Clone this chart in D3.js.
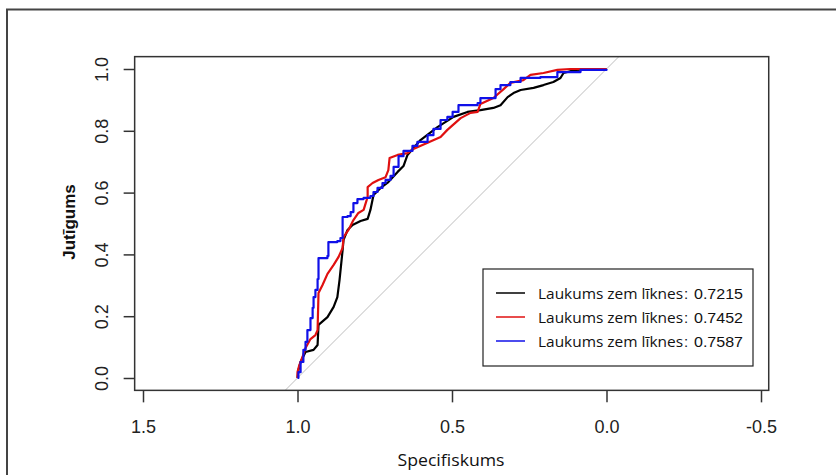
<!DOCTYPE html>
<html>
<head>
<meta charset="utf-8">
<script src="https://cdn.jsdelivr.net/npm/d3@7/dist/d3.min.js"></script>
<style>
  html, body { margin: 0; padding: 0; background: #fff; }
  svg { display: block; }
</style>
</head>
<body>
<svg id="chart" width="836" height="475"></svg>
<script>
// ---- data ----
const xTicks = [1.5, 1.0, 0.5, 0.0, -0.5];
const xTickLabels = ["1.5", "1.0", "0.5", "0.0", "-0.5"];
const yTicks = [0.0, 0.2, 0.4, 0.6, 0.8, 1.0];
const yTickLabels = ["0.0", "0.2", "0.4", "0.6", "0.8", "1.0"];

const seriesNames = ["Laukums zem līknes", "Laukums zem līknes", "Laukums zem līknes"];
const seriesAUC = ["0.7215", "0.7452", "0.7587"];
const seriesColors = ["#000000", "#e01010", "#1010e8"];

const blackSpec = [1.000,0.997,0.990,0.974,0.948,0.935,0.932,0.903,0.883,0.871,0.864,0.854,0.851,0.838,0.822,0.796,0.773,0.764,0.754,0.731,0.706,0.676,0.657,0.644,0.602,0.547,0.495,0.450,0.408,0.366,0.343,0.320,0.301,0.278,0.236,0.204,0.172,0.149,0.139,0.100,0.000];
const blackSens = [0.000,0.026,0.052,0.084,0.091,0.107,0.172,0.197,0.230,0.262,0.317,0.414,0.447,0.479,0.495,0.508,0.515,0.544,0.592,0.615,0.634,0.667,0.686,0.722,0.770,0.812,0.845,0.861,0.867,0.874,0.883,0.909,0.922,0.932,0.939,0.948,0.958,0.971,0.987,0.997,1.000];

const redSpec = [1.000,1.000,0.994,0.984,0.974,0.958,0.942,0.935,0.932,0.919,0.903,0.883,0.867,0.854,0.851,0.835,0.819,0.803,0.786,0.773,0.773,0.757,0.738,0.715,0.706,0.702,0.676,0.644,0.625,0.579,0.537,0.515,0.472,0.440,0.417,0.408,0.366,0.333,0.311,0.269,0.246,0.204,0.159,0.117,0.052,0.000];
const redSens = [0.000,0.019,0.042,0.068,0.097,0.126,0.139,0.155,0.275,0.301,0.337,0.366,0.392,0.421,0.456,0.479,0.511,0.534,0.544,0.586,0.618,0.631,0.641,0.650,0.673,0.712,0.722,0.728,0.741,0.761,0.780,0.803,0.841,0.858,0.861,0.887,0.906,0.935,0.955,0.964,0.981,0.987,0.997,1.000,1.000,1.000];

const blueSpec = [1.000,0.997,0.990,0.981,0.974,0.968,0.958,0.951,0.948,0.942,0.935,0.932,0.903,0.900,0.871,0.861,0.854,0.854,0.838,0.828,0.819,0.806,0.786,0.764,0.754,0.741,0.725,0.715,0.699,0.689,0.673,0.657,0.628,0.612,0.579,0.560,0.537,0.515,0.498,0.479,0.417,0.408,0.375,0.359,0.343,0.311,0.278,0.214,0.159,0.084,0.000];
const blueSens = [0.000,0.019,0.052,0.091,0.117,0.155,0.194,0.227,0.262,0.285,0.320,0.388,0.395,0.440,0.443,0.453,0.489,0.521,0.524,0.537,0.566,0.579,0.583,0.589,0.602,0.615,0.631,0.641,0.654,0.683,0.718,0.735,0.751,0.764,0.786,0.806,0.835,0.845,0.861,0.883,0.890,0.906,0.906,0.935,0.948,0.958,0.971,0.974,0.990,0.997,1.000];

// ---- layout ----
const svg = d3.select("#chart");
const x = d3.scaleLinear().domain([1.5, -0.5]).range([143, 761]);
const y = d3.scaleLinear().domain([0, 1]).range([378, 69]);
const boxX = [1.527, -0.525];
const boxY = [-0.04, 1.04];

// outer frame
svg.append("rect").attr("x", 7).attr("y", 9.5).attr("width", 900).attr("height", 600)
  .attr("fill", "none").attr("stroke", "#444").attr("stroke-width", 2);

// clip
svg.append("clipPath").attr("id", "plotclip").append("rect")
  .attr("x", x(boxX[0])).attr("y", y(boxY[1]))
  .attr("width", x(boxX[1]) - x(boxX[0])).attr("height", y(boxY[0]) - y(boxY[1]));

const plot = svg.append("g").attr("clip-path", "url(#plotclip)");

// diagonal
plot.append("line")
  .attr("x1", x(1.04)).attr("y1", y(-0.04))
  .attr("x2", x(-0.04)).attr("y2", y(1.04))
  .attr("stroke", "#bdbdbd").attr("stroke-width", 1);

const curves = [
  {spec: blackSpec, sens: blackSens, color: seriesColors[0], curve: d3.curveLinear},
  {spec: redSpec, sens: redSens, color: seriesColors[1], curve: d3.curveLinear},
  {spec: blueSpec, sens: blueSens, color: seriesColors[2], curve: d3.curveStepAfter}
];
curves.forEach(c => {
  const pts = c.spec.map((s, i) => [s, c.sens[i]]);
  plot.append("path").datum(pts)
    .attr("fill", "none").attr("stroke", c.color).attr("stroke-width", 2.2)
    .attr("stroke-linejoin", "round")
    .attr("d", d3.line().x(d => x(d[0])).y(d => y(d[1])).curve(c.curve));
});

// box
svg.append("rect")
  .attr("x", x(boxX[0])).attr("y", y(boxY[1]))
  .attr("width", x(boxX[1]) - x(boxX[0])).attr("height", y(boxY[0]) - y(boxY[1]))
  .attr("fill", "none").attr("stroke", "#333").attr("stroke-width", 1.5);

// x axis
const gx = svg.append("g").attr("transform", `translate(0,${y(boxY[0])})`)
  .call(d3.axisBottom(x).tickValues(xTicks).tickFormat((d, i) => xTickLabels[i]).tickSize(12).tickPadding(0));
gx.select(".domain").remove();
gx.selectAll(".tick line").attr("stroke", "#333").attr("stroke-width", 1.5);
gx.selectAll(".tick text").attr("y", 43).attr("dy", 0)
  .attr("font-family", "Liberation Sans, Arial, sans-serif").attr("font-size", 18).attr("fill", "#222");

// y axis
const gy = svg.append("g").attr("transform", `translate(${x(boxX[0])},0)`)
  .call(d3.axisLeft(y).tickValues(yTicks).tickFormat((d, i) => yTickLabels[i]).tickSize(11).tickPadding(0));
gy.select(".domain").remove();
gy.selectAll(".tick line").attr("stroke", "#333").attr("stroke-width", 1.5);
gy.selectAll(".tick text")
  .attr("transform", "rotate(-90)")
  .attr("x", 0).attr("y", -27).attr("dy", 0)
  .attr("text-anchor", "middle")
  .attr("font-family", "Liberation Sans, Arial, sans-serif").attr("font-size", 18).attr("fill", "#222");

// axis titles
svg.append("text").attr("x", 451).attr("y", 466)
  .attr("text-anchor", "middle")
  .attr("font-family", "Open Sans, sans-serif").attr("font-size", 16).attr("fill", "#111")
  .attr("textLength", 107).attr("lengthAdjust", "spacingAndGlyphs")
  .text("Specifiskums");

svg.append("text").attr("transform", "translate(75,222) rotate(-90)")
  .attr("text-anchor", "middle")
  .attr("font-family", "Liberation Sans, Arial, sans-serif").attr("font-weight", "bold")
  .attr("font-size", 17).attr("fill", "#111")
  .text("Jutīgums");

// legend
const lg = svg.append("g");
lg.append("rect").attr("x", 483).attr("y", 269).attr("width", 270).attr("height", 97)
  .attr("fill", "#fff").attr("stroke", "#222").attr("stroke-width", 1.2);
const rowY = [293, 317, 341];
seriesNames.forEach((name, i) => {
  lg.append("line").attr("x1", 496).attr("x2", 525).attr("y1", rowY[i]).attr("y2", rowY[i])
    .attr("stroke", seriesColors[i]).attr("stroke-width", 1.5);
  lg.append("text").attr("x", 538).attr("y", rowY[i] + 6)
    .attr("font-family", "Open Sans, sans-serif").attr("font-size", 15).attr("fill", "#111")
    .attr("textLength", 145).attr("lengthAdjust", "spacingAndGlyphs")
    .text(name);
  lg.append("text").attr("x", 684).attr("y", rowY[i] + 6)
    .attr("font-family", "Liberation Sans, Arial, sans-serif").attr("font-size", 15).attr("fill", "#111")
    .text(":");
  lg.append("text").attr("x", 694).attr("y", rowY[i] + 6)
    .attr("font-family", "Liberation Sans, Arial, sans-serif").attr("font-size", 15).attr("fill", "#111")
    .attr("textLength", 49).attr("lengthAdjust", "spacingAndGlyphs")
    .text(seriesAUC[i]);
});
</script>
</body>
</html>
